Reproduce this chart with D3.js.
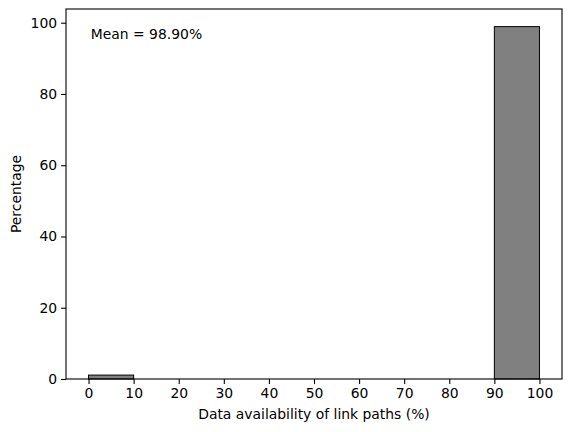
<!DOCTYPE html>
<html>
<head>
<meta charset="utf-8">
<script src="https://cdn.jsdelivr.net/npm/d3@7"></script>
<style>
  body { margin: 0; background: #fff; }
  svg { display: block; }
  text { font-family: "DejaVu Sans", sans-serif; fill: #000; }
</style>
</head>
<body>
<svg width="571" height="432"></svg>
<script>
    // histogram bins (percent availability) and share of link paths per bin
    var binEdges = [0, 10, 20, 30, 40, 50, 60, 70, 80, 90, 100];
    var binPercent = [1.1, 0, 0, 0, 0, 0, 0, 0, 0, 98.9];
    var xTicks = [0, 10, 20, 30, 40, 50, 60, 70, 80, 90, 100];
    var yTicks = [0, 20, 40, 60, 80, 100];
    var meanLabel = 'Mean = 98.90%';

    var fontSize = 13.9;

    var svg = d3.select('svg'),
        margin = { top: 9, right: 9, bottom: 53, left: 66 },
        width = +svg.attr('width') - margin.left - margin.right,
        height = +svg.attr('height') - margin.top - margin.bottom;

    var x = d3.scaleLinear().domain([-5, 105]).range([0, width]),
        y = d3.scaleLinear().domain([0, d3.max(binPercent) * 1.05]).range([height, 0]);

    var g = svg.append('g')
        .attr('transform', 'translate(' + margin.left + ',' + margin.top + ')');

    var bins = binPercent.map(function (v, i) {
        return { x0: binEdges[i], x1: binEdges[i + 1], value: v };
    });

    g.selectAll('.bar')
        .data(bins)
        .enter().append('rect')
        .attr('class', 'bar')
        .attr('x', function (d) { return x(d.x0); })
        .attr('width', function (d) { return x(d.x1) - x(d.x0); })
        .attr('y', function (d) { return y(d.value); })
        .attr('height', function (d) { return y(0) - y(d.value); })
        .attr('fill', '#808080')
        .attr('stroke', '#000')
        .attr('stroke-width', 1);

    var xAxis = g.append('g')
        .attr('transform', 'translate(0,' + height + ')')
        .call(d3.axisBottom(x).tickValues(xTicks).tickSize(4.9).tickPadding(4));

    var yAxis = g.append('g')
        .call(d3.axisLeft(y).tickValues(yTicks).tickSize(4.9).tickPadding(4));

    [xAxis, yAxis].forEach(function (a) {
        a.select('.domain').remove();
        a.selectAll('text').attr('font-size', fontSize).attr('font-family', '"DejaVu Sans", sans-serif');
        a.selectAll('line').attr('stroke', '#000').attr('stroke-width', 1.1);
    });

    // frame
    g.append('rect')
        .attr('width', width)
        .attr('height', height)
        .attr('fill', 'none')
        .attr('stroke', '#000')
        .attr('stroke-width', 1.1);

    g.append('text')
        .attr('x', width * 0.05)
        .attr('y', height * 0.05 + 11.5)
        .attr('font-size', fontSize)
        .text(meanLabel);

    svg.append('text')
        .attr('x', margin.left + width / 2)
        .attr('y', 419)
        .attr('text-anchor', 'middle')
        .attr('font-size', fontSize)
        .text('Data availability of link paths (%)');

    svg.append('text')
        .attr('transform', 'translate(21,' + (margin.top + height / 2) + ') rotate(-90)')
        .attr('text-anchor', 'middle')
        .attr('font-size', fontSize)
        .text('Percentage');
</script>
</body>
</html>
